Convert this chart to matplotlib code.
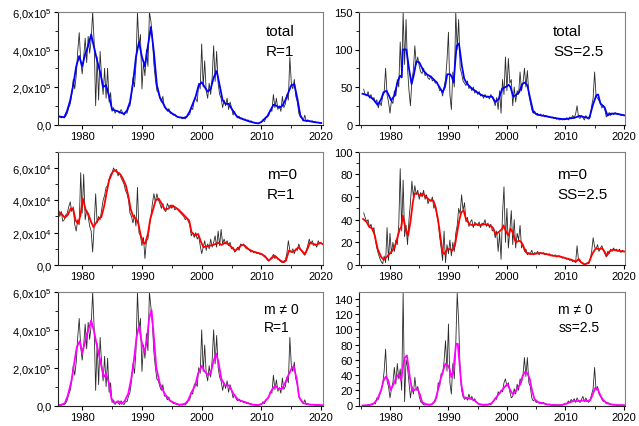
import numpy as np
import matplotlib
matplotlib.use("Agg")
import matplotlib.pyplot as plt
from matplotlib.ticker import MultipleLocator, FuncFormatter

plt.rcParams['font.family'] = ['Liberation Sans', 'DejaVu Sans']
plt.rcParams['mathtext.fontset'] = 'custom'
plt.rcParams['mathtext.rm'] = 'Liberation Sans'
plt.rcParams['mathtext.it'] = 'Liberation Sans:italic'

# ---- data (left column in units of 1e5 / 1e4, right column plain) ----
# raw series, quarterly samples
tl_start = 1976.0
tl_raw = [0.45, 0.40, 0.35, 0.42, 0.38, 0.45, 0.60, 0.90, 1.1, 1.6, 2.4, 1.9,
          2.6, 3.9, 4.9, 3.4, 2.7, 3.6, 4.6, 3.3, 4.7, 3.8, 4.5, 6.0,
          4.4, 1.0, 3.6, 1.3, 3.9, 2.5, 1.6, 3.0, 1.4, 3.0, 1.2, 1.7,
          0.7, 0.9, 0.6, 0.75, 0.7, 0.6, 0.8, 0.65, 0.5, 0.65, 0.6, 0.9,
          1.0, 1.6, 2.5, 2.0, 3.2, 6.0, 4.2, 4.8, 1.9, 3.3, 2.6, 4.0,
          3.1, 6.0, 5.5, 4.6, 3.2, 2.4, 1.8, 1.7, 1.4, 1.2, 1.5, 0.9,
          0.9, 0.7, 0.85, 0.6, 0.6, 0.5, 0.55, 0.45, 0.4, 0.35, 0.38, 0.3,
          0.35, 0.3, 0.4, 0.5, 0.55, 0.9, 0.8, 1.3, 1.4, 1.2, 2.2, 1.9,
          4.3, 2.0, 3.4, 1.8, 1.4, 2.2, 1.6, 2.5, 4.2, 2.3, 3.9, 2.2,
          1.6, 1.4, 0.9, 1.3, 1.0, 1.4, 0.8, 1.2, 0.9, 0.5, 0.7, 0.45,
          0.35, 0.45, 0.3, 0.35, 0.25, 0.3, 0.2, 0.25, 0.15, 0.2, 0.12, 0.1,
          0.08, 0.06, 0.05, 0.1, 0.12, 0.25, 0.15, 0.35, 0.4, 0.5, 0.8, 0.7,
          1.6, 0.9, 1.4, 0.8, 1.0, 0.7, 1.5, 0.9, 1.1, 1.6, 1.3, 3.6,
          2.2, 1.9, 2.4, 1.5, 1.2, 0.6, 0.4, 0.35, 0.2, 0.5, 0.15, 0.25,
          0.2, 0.15, 0.2, 0.1, 0.15, 0.1, 0.12, 0.08, 0.08]
tl_smooth = [(1976.0, 0.44), (1977.0, 0.38), (1977.5, 0.75), (1978.0, 1.3), (1978.5, 2.1),
             (1979.0, 3.1), (1979.5, 3.65), (1980.0, 3.1), (1980.5, 3.75), (1981.0, 4.2),
             (1981.5, 4.8), (1982.0, 4.1), (1982.5, 3.4), (1983.0, 2.8), (1983.5, 2.0),
             (1984.0, 2.1), (1984.5, 1.5), (1985.0, 0.8), (1986.0, 0.7), (1987.0, 0.56),
             (1987.5, 0.75), (1988.0, 1.2), (1988.5, 2.2), (1989.0, 3.6), (1989.5, 4.4),
             (1990.0, 3.6), (1990.5, 3.1), (1991.0, 4.2), (1991.5, 5.2), (1992.0, 3.85),
             (1992.5, 2.1), (1993.0, 1.45), (1994.0, 0.85), (1995.0, 0.6), (1996.0, 0.4),
             (1997.0, 0.35), (1997.5, 0.42), (1998.0, 0.7), (1998.5, 1.1), (1999.0, 1.5),
             (1999.5, 2.1), (2000.0, 2.25), (2000.5, 2.0), (2001.0, 1.75), (2001.5, 1.9),
             (2002.0, 2.5), (2002.5, 2.85), (2003.0, 2.1), (2003.5, 1.3), (2004.0, 1.1),
             (2004.5, 1.1), (2005.0, 0.85), (2005.5, 0.6), (2006.0, 0.4), (2007.0, 0.27),
             (2008.0, 0.16), (2009.0, 0.08), (2009.5, 0.06), (2010.0, 0.14), (2010.5, 0.3),
             (2011.0, 0.45), (2011.5, 0.75), (2012.0, 1.05), (2012.5, 1.0), (2013.0, 0.9),
             (2013.5, 1.0), (2014.0, 1.3), (2014.5, 1.7), (2015.0, 2.1), (2015.5, 2.15),
             (2016.0, 1.4), (2016.5, 0.5), (2017.0, 0.22), (2018.0, 0.18), (2019.0, 0.12),
             (2020.0, 0.08)]

tr_start = 1975.5
tr_raw = [47, 40, 38, 44, 35, 40, 33, 36, 29, 33, 22, 30, 25, 38,
          42, 75, 40, 30, 15, 32, 28, 45, 38, 60, 50, 110,
          62, 150, 80, 140, 75, 45, 25, 60, 72, 105, 80, 90,
          78, 70, 68, 75, 65, 68, 62, 60, 65, 58, 60, 55,
          57, 52, 45, 47, 38, 50, 60, 85, 123, 40, 20, 70,
          50, 150, 100, 140, 75, 68, 58, 55, 52, 58, 48, 50,
          45, 50, 42, 45, 40, 44, 38, 40, 35, 40, 36, 38,
          34, 40, 36, 32, 25, 36, 20, 45, 15, 60, 40, 90,
          45, 88, 55, 60, 25, 50, 30, 45, 40, 70, 45, 55,
          75, 50, 72, 40, 30, 20, 15, 18, 13, 15, 12, 14,
          11, 13, 10, 12, 10, 11, 9, 10, 8, 9, 7, 8,
          6, 7, 6, 8, 7, 9, 6, 10, 8, 12, 9, 14,
          25, 10, 8, 12, 9, 6, 12, 8, 7, 10, 25, 35,
          70, 38, 35, 32, 28, 22, 25, 20, 10, 13, 16, 12,
          15, 13, 16, 14, 13, 14, 12, 13, 12]
tr_smooth = [(1975.3, 41), (1976.2, 39), (1977.1, 34), (1977.9, 26), (1978.5, 34),
             (1978.9, 43), (1979.4, 45), (1979.8, 39), (1980.2, 32), (1980.8, 39),
             (1981.2, 54), (1981.7, 65), (1982.0, 63), (1982.2, 100), (1982.8, 100),
             (1983.3, 72), (1983.7, 54), (1984.1, 67), (1984.5, 84), (1985.0, 83),
             (1985.7, 72), (1986.3, 67), (1987.1, 63), (1988.0, 56), (1988.6, 48),
             (1989.0, 43), (1989.4, 50), (1989.8, 67), (1990.3, 67), (1990.6, 63),
             (1990.9, 56), (1991.1, 78), (1991.4, 105), (1991.8, 108), (1992.3, 78),
             (1992.7, 61), (1993.2, 54), (1994.0, 48), (1994.9, 43), (1995.7, 39),
             (1996.6, 37), (1997.5, 37), (1998.0, 30), (1998.6, 34), (1999.2, 48),
             (1999.8, 50), (2000.3, 53), (2000.6, 50), (2001.1, 37), (2001.5, 39),
             (2002.1, 43), (2002.6, 54), (2003.1, 56), (2003.5, 52), (2004.0, 34),
             (2004.5, 17), (2005.2, 13), (2006.4, 11.5), (2007.5, 9.7), (2008.7, 8),
             (2009.8, 7), (2010.7, 8), (2011.6, 9), (2012.4, 11.5), (2013.3, 9.7),
             (2014.1, 8.8), (2014.7, 26), (2015.3, 39), (2015.6, 40), (2016.0, 28),
             (2016.7, 23), (2017.2, 12), (2017.8, 14.5), (2018.7, 14.5), (2019.6, 13),
             (2020.2, 12)]

ml_start = 1976.0
ml_raw = [3.5, 3.0, 3.3, 2.7, 2.8, 3.1, 3.2, 3.6, 3.9, 3.3, 3.6, 2.5,
          2.1, 2.8, 2.5, 5.7, 3.2, 5.6, 2.8, 3.4, 3.0, 2.4, 2.1, 0.8,
          2.4, 4.4, 2.6, 3.0, 2.8, 3.4, 4.0, 4.3, 4.8, 4.9, 5.3, 5.6,
          5.7, 6.0, 5.8, 5.9, 5.5, 5.7, 5.4, 5.2, 5.0, 4.6, 4.4, 4.0,
          3.2, 3.0, 2.6, 3.1, 2.4, 4.8, 2.0, 1.8, 1.2, 1.7, 0.4, 1.5,
          1.6, 2.4, 3.0, 3.8, 4.4, 3.9, 4.4, 4.0, 3.8, 3.5, 3.8, 3.4,
          3.3, 3.8, 3.6, 3.7, 3.5, 3.7, 3.4, 3.5, 3.4, 3.3, 3.2, 3.1,
          3.0, 2.8, 2.9, 2.7, 2.5, 1.8, 2.0, 1.7, 2.0, 1.6, 1.8, 1.2,
          0.7, 1.1, 1.5, 0.9, 1.3, 1.0, 1.6, 1.1, 1.4, 1.8, 1.1, 2.1,
          1.2, 2.2, 1.3, 1.6, 1.3, 1.5, 1.2, 1.4, 1.0, 1.1, 0.8, 0.9,
          1.1, 0.9, 1.3, 1.2, 1.3, 1.1, 1.0, 1.0, 0.9, 0.8, 0.85, 0.75,
          0.8, 0.7, 0.75, 0.65, 0.7, 0.6, 0.5, 0.45, 0.3, 0.25, 0.4, 0.5,
          0.65, 0.4, 0.5, 0.35, 0.3, 0.2, 0.15, 0.25, 0.3, 0.7, 1.5, 0.9,
          0.8, 1.0, 0.7, 1.0, 0.9, 1.3, 1.0, 0.9, 0.7, 0.6, 0.9, 1.2,
          1.6, 1.3, 1.5, 1.2, 1.3, 1.1, 1.5, 1.3, 1.4]
ml_smooth = [(1976.0, 3.3), (1976.5, 3.17), (1977.1, 2.92), (1977.6, 3.1), (1978.1, 3.5),
             (1978.5, 3.43), (1978.9, 2.75), (1979.3, 2.55), (1979.7, 3.06), (1980.1, 4.1),
             (1980.6, 3.37), (1981.0, 3.17), (1981.5, 2.65), (1981.9, 2.34), (1982.4, 2.65),
             (1982.8, 2.86), (1983.2, 2.96), (1983.7, 3.68), (1984.1, 4.5), (1984.5, 5.23),
             (1985.1, 5.75), (1985.5, 5.86), (1985.8, 5.75), (1986.4, 5.59), (1986.8, 5.34),
             (1987.3, 4.92), (1987.7, 4.3), (1988.1, 3.48), (1988.5, 3.02), (1989.0, 2.86),
             (1989.4, 2.55), (1989.8, 1.82), (1990.2, 1.41), (1990.5, 1.3), (1991.0, 1.92),
             (1991.4, 2.86), (1991.9, 3.48), (1992.3, 4.0), (1992.8, 4.1), (1993.3, 3.79),
             (1993.8, 3.43), (1994.4, 3.48), (1995.0, 3.68), (1995.5, 3.58), (1996.1, 3.43),
             (1996.8, 3.17), (1997.5, 2.9), (1997.9, 2.75), (1998.3, 2.03), (1998.9, 1.82),
             (1999.4, 1.92), (1999.9, 1.41), (2000.3, 1.1), (2000.8, 1.16), (2001.4, 1.2),
             (2001.9, 1.24), (2002.8, 1.37), (2003.3, 1.24), (2003.9, 1.37), (2004.4, 1.3),
             (2005.0, 1.1), (2005.6, 0.89), (2006.1, 1.03), (2006.7, 1.24), (2007.2, 1.2),
             (2007.8, 0.99), (2008.6, 0.83), (2009.5, 0.74), (2010.0, 0.68), (2010.6, 0.54),
             (2011.2, 0.27), (2011.7, 0.41), (2012.2, 0.58), (2012.7, 0.41), (2013.2, 0.27),
             (2013.7, 0.17), (2014.1, 0.27), (2014.6, 0.89), (2015.1, 0.79), (2015.6, 0.89),
             (2016.2, 1.1), (2016.7, 0.89), (2017.3, 0.68), (2017.7, 0.99), (2018.1, 1.37),
             (2018.7, 1.3), (2019.2, 1.24), (2019.8, 1.37), (2020.2, 1.3)]

mr_start = 1975.5
mr_raw = [46, 42, 38, 40, 33, 36, 30, 33, 22, 15, 10, 6, 3, 1,
          8, 2, 33, 4, 28, 10, 20, 12, 22, 18, 35, 85,
          30, 75, 25, 35, 18, 40, 55, 74, 60, 70, 62, 66,
          58, 64, 60, 66, 58, 62, 54, 58, 56, 60, 50, 53,
          44, 38, 25, 15, 4, 30, 2, 18, 10, 22, 8, 20,
          12, 28, 35, 50, 45, 62, 48, 55, 38, 42, 34, 38,
          40, 33, 38, 36, 35, 38, 33, 37, 36, 40, 34, 37,
          33, 36, 30, 32, 24, 30, 12, 28, 5, 45, 69, 20,
          50, 15, 30, 48, 18, 40, 15, 28, 22, 35, 15, 18,
          12, 14, 9, 11, 10, 13, 9, 11, 10, 12, 9, 11,
          10, 11, 9, 10, 9, 10, 8, 9, 8, 9, 7, 8,
          8, 7, 6, 7, 6, 5, 6, 4, 5, 3, 4, 2,
          17, 4, 3, 2, 1, 0.5, 1, 2, 2, 5, 12, 24,
          16, 14, 18, 12, 15, 17, 13, 10, 7, 12, 10, 14,
          12, 15, 13, 14, 12, 14, 11, 13, 12]
mr_smooth = [(1975.4, 40.6), (1976.0, 38), (1976.4, 34), (1977.0, 32), (1977.4, 26),
             (1977.9, 14), (1978.5, 7), (1978.9, 4.7), (1979.4, 6.8), (1979.9, 9.7),
             (1980.4, 12.6), (1980.8, 15.6), (1981.2, 23), (1981.7, 32), (1981.9, 33),
             (1982.2, 43.5), (1982.7, 32), (1983.1, 26), (1983.5, 38), (1983.9, 55),
             (1984.2, 63), (1984.8, 63), (1985.1, 61), (1985.6, 63), (1986.2, 60),
             (1986.8, 57), (1987.4, 57), (1987.8, 51), (1988.2, 40.6), (1988.6, 26),
             (1989.0, 11), (1989.3, 9.7), (1989.8, 14), (1990.2, 14), (1990.7, 13),
             (1991.1, 17), (1991.5, 29), (1991.9, 40.6), (1992.2, 46.5), (1992.6, 48),
             (1993.0, 40.6), (1993.6, 36), (1994.2, 35), (1994.8, 36), (1995.3, 35),
             (1996.2, 36), (1997.0, 35), (1997.6, 33), (1998.1, 27), (1998.6, 29),
             (1999.2, 32), (1999.4, 35), (1999.9, 29), (2000.3, 26), (2000.6, 32),
             (2001.0, 29), (2001.5, 20), (2002.1, 21.5), (2002.5, 20), (2002.9, 15.6),
             (2003.3, 11), (2003.9, 9.7), (2004.7, 9.7), (2005.6, 10.6), (2006.7, 9.7),
             (2007.8, 8.2), (2009.0, 7.6), (2010.1, 5.9), (2011.0, 4.7), (2011.8, 2.9),
             (2012.3, 5.3), (2012.7, 2.4), (2013.3, 0.6), (2014.0, 1.8), (2014.6, 9.7),
             (2015.2, 14.7), (2015.8, 14), (2016.3, 14.7), (2016.7, 11.8), (2017.1, 8.2),
             (2017.5, 11.8), (2018.1, 13.5), (2019.0, 12.6), (2020.2, 11.8)]

bl_start = 1976.0
bl_raw = [0.05, 0.03, 0.02, 0.05, 0.05, 0.12, 0.3, 0.6, 0.8, 1.3, 2.1, 1.6,
          2.3, 3.6, 4.6, 3.1, 2.4, 3.2, 4.3, 3.0, 4.4, 3.5, 4.2, 6.0,
          4.1, 0.8, 3.3, 1.1, 3.6, 2.2, 1.3, 2.6, 1.0, 2.5, 0.7, 1.2,
          0.15, 0.3, 0.05, 0.2, 0.15, 0.05, 0.25, 0.1, 0.05, 0.2, 0.2, 0.5,
          0.7, 1.3, 2.2, 1.7, 2.9, 6.0, 4.0, 4.6, 1.8, 3.2, 2.5, 3.8,
          2.9, 6.0, 5.2, 4.3, 2.8, 2.0, 1.4, 1.3, 1.0, 0.8, 1.1, 0.5,
          0.5, 0.3, 0.45, 0.2, 0.2, 0.1, 0.15, 0.05, 0.05, 0.02, 0.05, 0.02,
          0.05, 0.03, 0.12, 0.25, 0.3, 0.7, 0.6, 1.1, 1.2, 1.0, 2.0, 1.7,
          4.0, 1.8, 3.2, 1.7, 1.3, 2.1, 1.5, 2.4, 4.0, 2.2, 3.7, 2.0,
          1.5, 1.3, 0.8, 1.2, 0.9, 1.3, 0.7, 1.1, 0.8, 0.4, 0.6, 0.35,
          0.25, 0.35, 0.2, 0.25, 0.15, 0.2, 0.1, 0.15, 0.08, 0.1, 0.05, 0.03,
          0.02, 0.01, 0.02, 0.05, 0.06, 0.2, 0.1, 0.3, 0.35, 0.45, 0.75, 0.65,
          1.6, 0.85, 1.35, 0.75, 0.95, 0.65, 1.45, 0.85, 1.0, 1.5, 1.2, 3.6,
          2.1, 1.8, 2.3, 1.4, 1.1, 0.5, 0.3, 0.2, 0.1, 0.3, 0.05, 0.1,
          0.05, 0.03, 0.06, 0.02, 0.03, 0.02, 0.04, 0.02, 0.02]
bl_smooth = [(1976.2, 0.0), (1977.1, 0.12), (1977.6, 0.53), (1978.2, 1.3), (1978.7, 2.3),
             (1979.1, 3.1), (1979.6, 3.4), (1980.0, 2.8), (1980.4, 3.25), (1980.8, 3.8),
             (1981.3, 4.25), (1981.5, 4.5), (1982.0, 3.9), (1982.4, 3.25), (1982.8, 2.7),
             (1983.2, 2.1), (1983.6, 1.5), (1984.0, 1.7), (1984.5, 1.15), (1984.9, 0.35),
             (1985.4, 0.12), (1986.0, 0.23), (1986.6, 0.09), (1987.1, 0.23), (1987.7, 0.62),
             (1988.2, 1.4), (1988.7, 2.5), (1989.1, 3.6), (1989.5, 4.2), (1989.9, 3.45),
             (1990.4, 2.8), (1990.8, 3.35), (1991.2, 4.6), (1991.6, 5.05), (1992.0, 3.6),
             (1992.4, 2.0), (1993.0, 1.15), (1993.8, 0.62), (1994.7, 0.26), (1995.5, 0.12),
             (1996.3, 0.04), (1997.2, 0.09), (1997.7, 0.26), (1998.3, 0.7), (1998.9, 1.06),
             (1999.4, 1.7), (2000.0, 2.1), (2000.5, 1.8), (2001.1, 1.6), (2001.5, 1.7),
             (2001.9, 2.25), (2002.4, 2.75), (2002.8, 2.3), (2003.3, 1.4), (2003.9, 1.06),
             (2004.6, 1.06), (2005.3, 0.62), (2006.1, 0.3), (2007.2, 0.18), (2008.4, 0.05),
             (2009.5, 0.02), (2010.3, 0.12), (2011.1, 0.4), (2011.7, 0.8), (2012.3, 1.06),
             (2012.8, 0.88), (2013.4, 0.88), (2013.9, 1.15), (2014.5, 1.6), (2015.1, 2.0),
             (2015.4, 2.05), (2015.9, 1.4), (2016.3, 0.44), (2017.0, 0.12), (2018.1, 0.05),
             (2019.8, 0.02), (2020.2, 0.02)]

br_start = 1975.5
br_raw = [0, 0.5, 0, 1, 0.5, 1, 1, 3, 2, 10, 8, 14, 20, 28,
          45, 74, 32, 25, 10, 22, 30, 50, 28, 55, 35, 48,
          20, 148, 5, 60, 50, 30, 10, 25, 15, 37, 20, 25,
          12, 5, 3, 1, 0.5, 2, 1, 0.5, 1, 2, 4, 8,
          10, 30, 25, 42, 40, 58, 85, 45, 107, 30, 15, 55,
          35, 80, 148, 110, 45, 20, 12, 8, 10, 7, 15, 8,
          12, 6, 9, 4, 3, 2, 1, 1, 0.5, 1, 0.5, 1,
          2, 1, 4, 6, 10, 8, 18, 15, 20, 18, 30, 35,
          25, 30, 18, 10, 12, 22, 15, 28, 20, 35, 30, 40,
          63, 38, 63, 30, 25, 10, 6, 8, 4, 5, 3, 3,
          2, 4, 2, 1, 1, 2, 0.5, 1, 0.5, 1, 0.5, 0.5,
          0.5, 1, 0.5, 2, 3, 2, 6, 4, 8, 5, 9, 4,
          10, 6, 4, 8, 12, 5, 10, 6, 4, 8, 15, 22,
          50, 20, 25, 15, 12, 8, 5, 6, 2, 4, 2, 1,
          1, 0.5, 1, 0.5, 0.5, 0.5, 0.5, 0.5, 0.5]
br_smooth = [(1975.3, 0), (1976.4, 0.4), (1977.3, 3), (1977.9, 9), (1978.5, 20.5),
             (1978.9, 33), (1979.3, 38), (1979.7, 33), (1980.1, 20.5), (1980.5, 26),
             (1981.1, 37), (1981.5, 41.5), (1981.9, 33), (1982.2, 50), (1982.5, 62.5),
             (1982.9, 65.6), (1983.4, 37), (1983.8, 19), (1984.2, 20.5), (1984.7, 22),
             (1985.1, 15), (1985.5, 4.4), (1986.2, 1.3), (1987.1, 1.3), (1987.7, 5.7),
             (1988.2, 19.7), (1988.6, 33), (1989.1, 46), (1989.5, 55), (1989.9, 52.5),
             (1990.2, 48), (1990.5, 37), (1990.8, 44), (1991.1, 65.6), (1991.3, 81),
             (1991.6, 81), (1991.9, 55), (1992.2, 28), (1992.6, 11), (1993.3, 9.6),
             (1993.9, 8.8), (1994.5, 6.6), (1995.1, 2.2), (1995.9, 0.9), (1996.8, 1.3),
             (1997.4, 3), (1998.0, 8.8), (1998.6, 15), (1999.2, 20.5), (1999.8, 26),
             (2000.1, 28), (2000.6, 19.7), (2001.0, 15), (2001.4, 17.5), (2001.9, 24),
             (2002.3, 28), (2002.7, 39), (2003.1, 44), (2003.5, 42.4), (2003.9, 35),
             (2004.3, 19.7), (2004.7, 8.8), (2005.3, 4.4), (2006.2, 3), (2007.0, 1.3),
             (2008.2, 0.4), (2009.3, 0.4), (2010.4, 3), (2011.3, 5.7), (2012.2, 5.7),
             (2013.1, 6.6), (2013.7, 5.7), (2014.3, 7.4), (2014.7, 15), (2015.1, 23),
             (2015.5, 22), (2016.0, 13), (2016.5, 6.6), (2017.1, 3), (2018.0, 1.3),
             (2019.1, 0.4), (2020.2, 0.4)]

# ---- layout ----
W, H = 639, 427
fig = plt.figure(figsize=(W / 100, H / 100), dpi=100)


def box(x0, y0, x1, y1):
    return [x0 / W, 1 - y1 / H, (x1 - x0) / W, (y1 - y0) / H]


def sci_fmt(exp):
    def f(v, pos):
        if abs(v) < 1e-9:
            return '0,0'
        s = f'{v:.1f}'.replace('.', '{,}')
        return r'$\mathrm{' + s + r'x10^{' + str(exp) + r'}}$'
    return FuncFormatter(f)


def style(ax, xlim, ylim, ymaj, ymin, fmt=None):
    ax.set_xlim(*xlim)
    ax.set_ylim(*ylim)
    ax.xaxis.set_major_locator(MultipleLocator(10))
    ax.xaxis.set_minor_locator(MultipleLocator(5))
    ax.yaxis.set_major_locator(MultipleLocator(ymaj))
    ax.yaxis.set_minor_locator(MultipleLocator(ymin))
    if fmt is not None:
        ax.yaxis.set_major_formatter(fmt)
    ax.tick_params(which='major', direction='out', length=3, width=0.8, labelsize=8, pad=1.5)
    ax.tick_params(which='minor', direction='out', length=2, width=0.6)
    for side in ['left', 'bottom']:
        ax.spines[side].set_color('#222222')
        ax.spines[side].set_linewidth(0.8)
    for side in ['top', 'right']:
        ax.spines[side].set_color('#808080')
        ax.spines[side].set_linewidth(0.8)


def draw(ax, start, raw, smooth, color):
    t = start + 0.25 * np.arange(len(raw))
    ax.plot(t, raw, color='#2a2a2a', lw=0.6)
    sx, sy = zip(*smooth)
    ax.plot(sx, sy, color=color, lw=1.3)


def label(ax, x, lines, ys, size=11):
    for txt, y in zip(lines, ys):
        ax.text(x, y, txt, transform=ax.transAxes, fontsize=size, va='center', ha='left')


left_x = (58, 322.7)
right_x = (359, 625)
rows = [(13, 125.5), (152.7, 266), (293, 406.5)]
lx = (1975.95, 2020.25)
rx = (1974.7, 2020.2)

ax = fig.add_axes(box(left_x[0], rows[0][0], left_x[1], rows[0][1]))
draw(ax, tl_start, tl_raw, tl_smooth, '#0000ff')
style(ax, lx, (0, 6), 2, 1, sci_fmt(5))
label(ax, 0.785, ['total', 'R=1'], [0.83, 0.65])

ax = fig.add_axes(box(right_x[0], rows[0][0], right_x[1], rows[0][1]))
draw(ax, tr_start, tr_raw, tr_smooth, '#0000ff')
style(ax, rx, (0, 150), 50, 25)
label(ax, 0.73, ['total', 'SS=2.5'], [0.83, 0.65])

ax = fig.add_axes(box(left_x[0], rows[1][0], left_x[1], rows[1][1]))
draw(ax, ml_start, ml_raw, ml_smooth, '#ff0000')
style(ax, lx, (0, 7), 2, 1, sci_fmt(4))
label(ax, 0.79, ['m=0', 'R=1'], [0.8, 0.63])

ax = fig.add_axes(box(right_x[0], rows[1][0], right_x[1], rows[1][1]))
draw(ax, mr_start, mr_raw, mr_smooth, '#ff0000')
style(ax, rx, (0, 100), 20, 10)
label(ax, 0.745, ['m=0', 'SS=2.5'], [0.8, 0.63])

ax = fig.add_axes(box(left_x[0], rows[2][0], left_x[1], rows[2][1]))
draw(ax, bl_start, bl_raw, bl_smooth, '#ff00ff')
style(ax, lx, (0, 6), 2, 1, sci_fmt(5))
label(ax, 0.777, ['m \u2260 0', 'R=1'], [0.85, 0.69], size=10)

ax = fig.add_axes(box(right_x[0], rows[2][0], right_x[1], rows[2][1]))
draw(ax, br_start, br_raw, br_smooth, '#ff00ff')
style(ax, rx, (0, 149), 20, 10)
label(ax, 0.75, ['m \u2260 0', 'ss=2.5'], [0.85, 0.69], size=10)

fig.savefig('out.png', dpi=100)
